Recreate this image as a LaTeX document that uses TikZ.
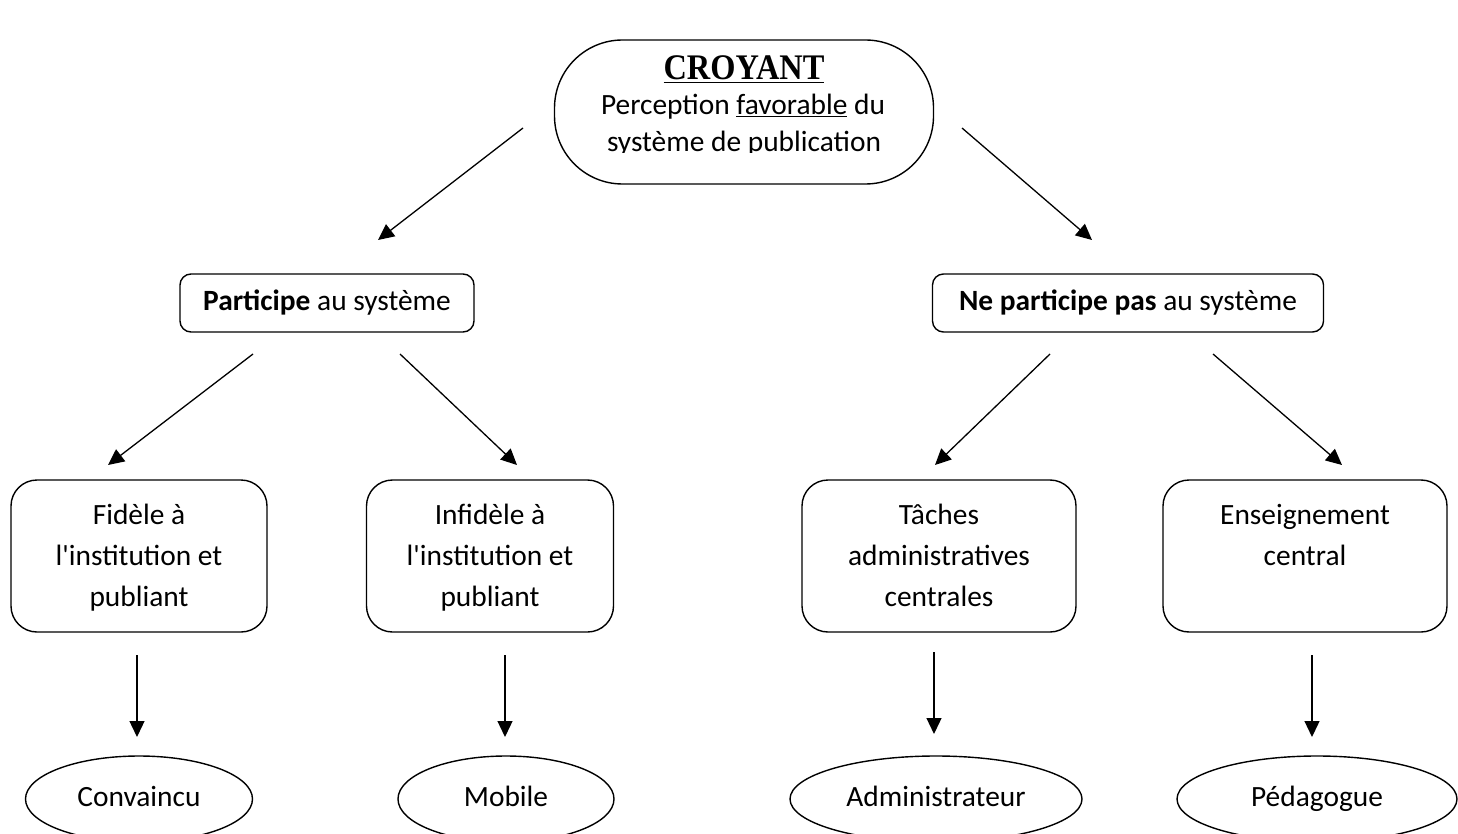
\documentclass[tikz,border=0pt]{standalone}
\usepackage{fontspec}
\setmainfont{Carlito}
\newfontfamily\timesf{Liberation Serif}
\usetikzlibrary{arrows.meta,shapes.geometric}
\begin{document}
\begin{tikzpicture}[x=1pt,y=-1pt,
  txt/.style={font=\fontsize{29.4}{41}\selectfont, align=center, inner sep=0pt},
  rbox/.style={draw, line width=1.4pt, rounded corners=26pt, minimum height=152pt, inner sep=0pt, txt, text height=107pt, text depth=7pt},
  sbox/.style={draw, line width=1.4pt, rounded corners=11pt, minimum height=58pt, inner sep=0pt, txt, text height=21pt, text depth=7pt},
  oval/.style={draw, ellipse, line width=1.4pt, minimum height=86pt, inner sep=0pt, txt, text height=21pt, text depth=7pt},
  arr/.style={line width=1.3pt, -{Triangle[length=16pt,width=15pt]}}]
\clip (0,0) rectangle (1458,834);
\fill[white] (0,0) rectangle (1458,834);
% top node
\node[draw, line width=1.4pt, rounded corners=68pt, minimum width=379pt, minimum height=144pt] (top) at (744,112) {};
\node[anchor=base, inner sep=0pt, font=\timesf\bfseries\fontsize{36}{36}\selectfont] (t1) at (744,80) {\scalebox{0.9}[1]{\underline{CROYANT}}};
\node[anchor=base, txt] (t2) at (743,115) {Perception \underline{favorable} du};
\begin{scope}
\clip (500,120) rectangle (1000,153);
\node[anchor=base, txt] (t3) at (744,152) {système de publication};
\end{scope}
% level 2
\node[sbox, minimum width=294pt] (part) at (327,303) {\textbf{Participe} au système};
\node[sbox, minimum width=391pt] (nopart) at (1128,303) {\textbf{Ne participe pas} au système};
% level 3
\node[rbox, minimum width=256pt] (fid) at (139,556) {Fidèle à\\l\textquotesingle institution et\\publiant};
\node[rbox, minimum width=247pt] (infid) at (490,556) {Infidèle à\\l\textquotesingle institution et\\publiant};
\node[rbox, minimum width=274pt] (tach) at (939,556) {Tâches\\administratives\\centrales};
\node[rbox, minimum width=284pt] (ens) at (1305,556) {Enseignement\\central\\\strut};
% level 4
\node[oval, minimum width=227pt] (conv) at (139,799) {Convaincu};
\node[oval, minimum width=216pt] (mob) at (506,799) {Mobile};
\node[oval, minimum width=292pt] (adm) at (936,799) {Administrateur};
\node[oval, minimum width=280pt] (ped) at (1317,799) {Pédagogue};
% arrow end points
\coordinate (a1s) at (523,128); \coordinate (a1e) at (378,240);
\coordinate (a2s) at (962,128); \coordinate (a2e) at (1092,240);
\coordinate (b1s) at (253,354); \coordinate (b1e) at (108,465);
\coordinate (b2s) at (400,354); \coordinate (b2e) at (517,465);
\coordinate (c1s) at (1050,354); \coordinate (c1e) at (935,465);
\coordinate (c2s) at (1213,354); \coordinate (c2e) at (1342,465);
\coordinate (d1s) at (137,655); \coordinate (d1e) at (137,737);
\coordinate (d2s) at (505,655); \coordinate (d2e) at (505,737);
\coordinate (d3s) at (934,652); \coordinate (d3e) at (934,734);
\coordinate (d4s) at (1312,655); \coordinate (d4e) at (1312,737);
\foreach \p in {a1,a2,b1,b2,c1,c2,d1,d2,d3,d4}
  \draw[arr] (\p s) -- (\p e);
\end{tikzpicture}
\end{document}
